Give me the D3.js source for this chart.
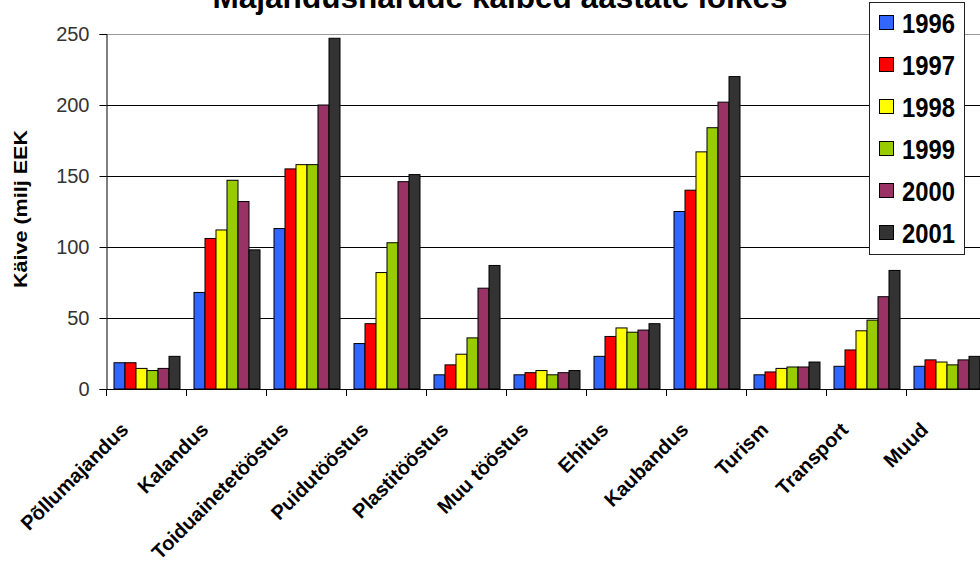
<!DOCTYPE html>
<html>
<head>
<meta charset="utf-8">
<script src="https://cdn.jsdelivr.net/npm/d3@7"></script>
<style>
  html, body { margin: 0; padding: 0; background: #fff; overflow: hidden; }
  svg { display: block; font-family: "Liberation Sans", Arial, sans-serif; }
</style>
</head>
<body>
<svg id="chart" width="980" height="563"></svg>
<script>
// categories and yearly turnover (milj EEK)
const categories = ['Põllumajandus', 'Kalandus', 'Toiduainetetööstus', 'Puidutööstus', 'Plastitööstus',
  'Muu tööstus', 'Ehitus', 'Kaubandus', 'Turism', 'Transport', 'Muud'];
const years = ['1996', '1997', '1998', '1999', '2000', '2001'];
const colors = ['#3366ff', '#ff0000', '#ffff00', '#99cc00', '#993366', '#333333'];

const v1996 = [18.5, 68, 113, 32, 10, 10, 23, 125, 10, 16, 16];
const v1997 = [18.5, 106, 155, 46, 17, 11.5, 37, 140, 12, 27.5, 20.5];
const v1998 = [14.5, 112, 158, 82, 24.5, 13, 43, 167, 14.5, 41, 19];
const v1999 = [13, 147, 158, 103, 36, 10, 40, 184, 15.5, 48.5, 17];
const v2000 = [14.5, 132, 200, 146, 71, 11.5, 41.5, 202, 15.5, 65, 20.5];
const v2001 = [23, 98, 247, 151, 87, 13, 46, 220, 19, 83.5, 23];
const series = [v1996, v1997, v1998, v1999, v2000, v2001];
const yTicks = [0, 50, 100, 150, 200, 250];

const svg = d3.select('#chart');
const W = 980;
const plotLeft = 106.5, plotBottom = 389, plotTop = 34;

const x0 = d3.scaleBand().domain(categories)
  .range([plotLeft, plotLeft + 80 * categories.length])
  .paddingInner(0.175).paddingOuter(0.0875);
const x1 = d3.scaleBand().domain(years).range([0, x0.bandwidth()]);
const y = d3.scaleLinear().domain([0, 250]).range([plotBottom, plotTop]);
const color = d3.scaleOrdinal().domain(years).range(colors);

// gridlines
svg.append('g').selectAll('line')
  .data(yTicks.filter(d => d > 0))
  .join('line')
  .attr('x1', plotLeft).attr('x2', W)
  .attr('y1', d => Math.round(y(d)) + 0.5).attr('y2', d => Math.round(y(d)) + 0.5)
  .attr('stroke', d => d === 250 ? '#999' : '#000')
  .attr('stroke-width', 1);

// bars
const groups = svg.append('g').selectAll('g')
  .data(categories)
  .join('g')
  .attr('transform', c => `translate(${x0(c)},0)`);

groups.selectAll('rect')
  .data((c, i) => years.map((yr, j) => ({ yr, v: series[j][i] })))
  .join('rect')
  .attr('x', d => x1(d.yr) + 0.5)
  .attr('y', d => y(d.v))
  .attr('width', x1.bandwidth())
  .attr('height', d => plotBottom - y(d.v))
  .attr('fill', d => color(d.yr))
  .attr('stroke', '#000')
  .attr('stroke-width', 1);

// y axis
const yAxis = svg.append('g')
  .attr('transform', `translate(${plotLeft},0)`)
  .call(d3.axisLeft(y).tickValues(yTicks).tickSize(7).tickPadding(10));
yAxis.select('.domain').attr('stroke', '#000');
yAxis.selectAll('.tick line').attr('stroke', '#000');
yAxis.selectAll('.tick text')
  .attr('font-size', 20).attr('fill', '#333')
  .attr('font-family', '"Liberation Sans", Arial, sans-serif');

// x axis with ticks between categories
const step = x0.step();
const bounds = categories.map(c => x0(c) - step * 0.0875)
  .concat([x0(categories[categories.length - 1]) + x0.bandwidth() + step * 0.0875]);
svg.append('line')
  .attr('x1', plotLeft).attr('x2', W)
  .attr('y1', plotBottom + 0.5).attr('y2', plotBottom + 0.5)
  .attr('stroke', '#000');
svg.append('g').selectAll('line')
  .data(bounds)
  .join('line')
  .attr('x1', d => d).attr('x2', d => d)
  .attr('y1', plotBottom).attr('y2', plotBottom + 7)
  .attr('stroke', '#000');

// category labels, rotated
svg.append('g').selectAll('text')
  .data(categories)
  .join('text')
  .attr('transform', c => `translate(${x0(c) + x0.bandwidth() / 2 - 17},${plotBottom + 42}) rotate(-45)`)
  .attr('text-anchor', 'end')
  .attr('font-size', 20)
  .attr('font-weight', 'bold')
  .attr('fill', '#000')
  .text(c => c);

// y title
svg.append('text')
  .attr('transform', 'translate(27,209) rotate(-90)')
  .attr('text-anchor', 'middle')
  .attr('font-size', 19)
  .attr('font-weight', 'bold')
  .attr('textLength', 158)
  .attr('lengthAdjust', 'spacingAndGlyphs')
  .text('Käive (milj EEK');

// chart title (cut off at top, as in the source)
svg.append('text')
  .attr('x', 500).attr('y', 8)
  .attr('text-anchor', 'middle')
  .attr('font-size', 31)
  .attr('font-weight', 'bold')
  .attr('textLength', 575)
  .attr('lengthAdjust', 'spacingAndGlyphs')
  .text('Majandusharude käibed aastate lõikes');

// legend
const legend = svg.append('g').attr('transform', 'translate(869,2)');
legend.append('rect')
  .attr('x', 0.5).attr('y', 0.5).attr('width', 95).attr('height', 252)
  .attr('fill', '#fff').attr('stroke', '#222');
const ly = d3.scalePoint().domain(years).range([21, 231]);
const items = legend.selectAll('g.item')
  .data(years)
  .join('g')
  .attr('class', 'item')
  .attr('transform', d => `translate(0,${ly(d)})`);
items.append('rect')
  .attr('x', 10.5).attr('y', -7.5).attr('width', 14).attr('height', 14)
  .attr('fill', d => color(d)).attr('stroke', '#000');
items.append('text')
  .attr('x', 33).attr('y', 10)
  .attr('font-size', 27)
  .attr('font-weight', 'bold')
  .attr('textLength', 53)
  .attr('lengthAdjust', 'spacingAndGlyphs')
  .text(d => d);
</script>
</body>
</html>
